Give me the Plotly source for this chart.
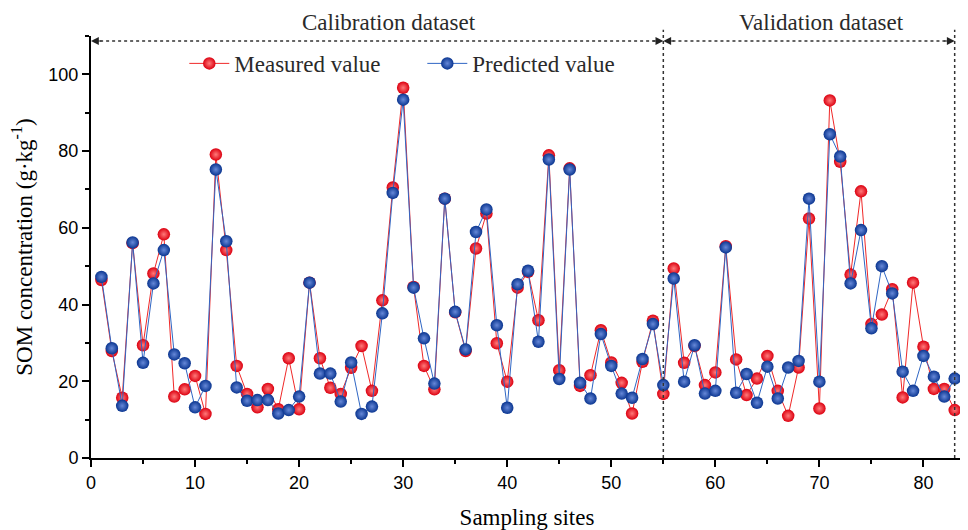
import plotly.graph_objects as go

# sampling site number
sites = list(range(1, 84))

# SOM measured (g/kg)
measured = [46.4, 27.9, 15.7, 56.0, 29.4, 48.1, 58.3, 16.0, 17.9, 21.4,
            11.5, 79.1, 54.2, 24.0, 16.7, 13.2, 18.0, 12.7, 26.0, 12.7,
            45.7, 26.0, 18.3, 16.7, 23.5, 29.2, 17.5, 41.1, 70.5, 96.5,
            44.6, 24.0, 17.9, 67.6, 38.0, 27.9, 54.6, 63.7, 29.9, 19.9,
            44.4, 48.5, 35.9, 78.9, 22.9, 75.5, 18.8, 21.6, 33.3, 24.9,
            19.6, 11.6, 25.1, 35.8, 16.7, 49.4, 24.8, 29.2, 19.0, 22.3,
            55.2, 25.7, 16.4, 20.7, 26.6, 17.5, 11.0, 23.6, 62.4, 12.9,
            93.2, 77.2, 47.8, 69.5, 34.9, 37.4, 44.0, 15.8, 45.7, 29.0,
            18.0, 18.0, 12.5]

# SOM predicted (g/kg)
predicted = [47.2, 28.6, 13.6, 56.2, 24.8, 45.5, 54.2, 27.0, 24.7, 13.2,
             18.8, 75.2, 56.5, 18.4, 14.9, 15.1, 15.1, 11.6, 12.5, 16.0,
             45.7, 22.0, 22.0, 14.7, 24.9, 11.5, 13.4, 37.7, 69.1, 93.4,
             44.4, 31.2, 19.4, 67.6, 38.1, 28.3, 58.9, 64.8, 34.6, 13.1,
             45.3, 48.8, 30.3, 77.8, 20.6, 75.2, 19.6, 15.5, 32.3, 24.0,
             16.8, 15.7, 25.8, 34.9, 19.0, 46.8, 19.9, 29.4, 16.8, 17.5,
             54.9, 17.0, 21.9, 14.4, 23.8, 15.5, 23.6, 25.3, 67.6, 19.9,
             84.4, 78.6, 45.5, 59.4, 33.8, 50.0, 42.9, 22.5, 17.5, 26.6,
             21.2, 16.0, 20.7]

split_site = 55
last_site = 83

serif = "Liberation Serif, Times New Roman, serif"
sans = "Liberation Sans, Arial"

fig = go.Figure()

fig.add_trace(go.Scatter(
    x=sites, y=measured, name="Measured value", mode="lines+markers",
    line=dict(color="#f02828", width=1),
    marker=dict(size=12.5, color="#dc0010",
                gradient=dict(type="radial", color="#ff7a7a"),
                line=dict(width=0)),
))
fig.add_trace(go.Scatter(
    x=sites, y=predicted, name="Predicted value", mode="lines+markers",
    line=dict(color="#2f66c4", width=1),
    marker=dict(size=12.5, color="#0a3590",
                gradient=dict(type="radial", color="#6688d8"),
                line=dict(width=0)),
))

# dotted separators
dot = dict(color="#333333", width=1.5, dash="dot")
for xv in [split_site, last_site]:
    fig.add_shape(type="line", xref="x", yref="paper", x0=xv, x1=xv,
                  y0=0, y1=1.015, line=dot)
arrow_y = 108.7
fig.add_shape(type="line", x0=0.3, x1=split_site - 0.3, y0=arrow_y, y1=arrow_y, line=dot)
fig.add_shape(type="line", x0=split_site + 0.3, x1=last_site - 0.3, y0=arrow_y, y1=arrow_y, line=dot)

# arrow heads
for xv, ax in [(0, 12), (split_site, -12), (split_site, 12), (last_site, -12)]:
    fig.add_annotation(x=xv, y=arrow_y, ax=ax, ay=0, text="", showarrow=True,
                       arrowhead=2, arrowsize=1.3, arrowwidth=1.2,
                       arrowcolor="#222222")

fig.add_annotation(x=28.6, y=1.0, xref="x", yref="paper", yanchor="middle",
                   yshift=14, text="Calibration dataset", showarrow=False,
                   font=dict(family=serif, size=23, color="#2a2a2a"))
fig.add_annotation(x=70.2, y=1.0, xref="x", yref="paper",
                   yanchor="middle", yshift=14, text="Validation dataset", showarrow=False,
                   font=dict(family=serif, size=23, color="#2a2a2a"))

# page body has an 8px margin, so the figure is a bit smaller than the window
fig.update_layout(
    width=960, height=522,
    margin=dict(l=83, r=5, t=28, b=72),
    plot_bgcolor="white", paper_bgcolor="white",
    showlegend=True,
    legend=dict(orientation="h", x=0.107, y=0.935, xanchor="left", yanchor="middle",
                bgcolor="rgba(0,0,0,0)", font=dict(family=serif, size=23, color="#2a2a2a"),
                itemwidth=40, entrywidth=183),
)

fig.update_xaxes(range=[0, 83.8], tick0=0, dtick=10, ticks="outside", ticklen=7,
                 tickwidth=2, tickcolor="black", showline=True, linewidth=2,
                 linecolor="black", showgrid=False, zeroline=False, automargin=False,
                 tickfont=dict(family=sans, size=18, color="black"),
                 minor=dict(ticks="outside", dtick=5, ticklen=4, tickwidth=2,
                            tickcolor="black"),
                 title=dict(text="Sampling sites", font=dict(family=serif, size=23, color="black"),
                            standoff=18))

fig.update_yaxes(range=[0, 110], tick0=0, dtick=20, ticks="outside", ticklen=7,
                 tickwidth=2, tickcolor="black", showline=True, linewidth=2,
                 linecolor="black", showgrid=False, zeroline=False, automargin=False,
                 tickfont=dict(family=sans, size=18, color="black"),
                 minor=dict(ticks="outside", dtick=10, ticklen=4, tickwidth=2,
                            tickcolor="black"),
                 title=dict(text="SOM concentration (g·kg<sup>-1</sup>)",
                            font=dict(family=serif, size=23, color="black"), standoff=10))

fig.write_html("out.html")
